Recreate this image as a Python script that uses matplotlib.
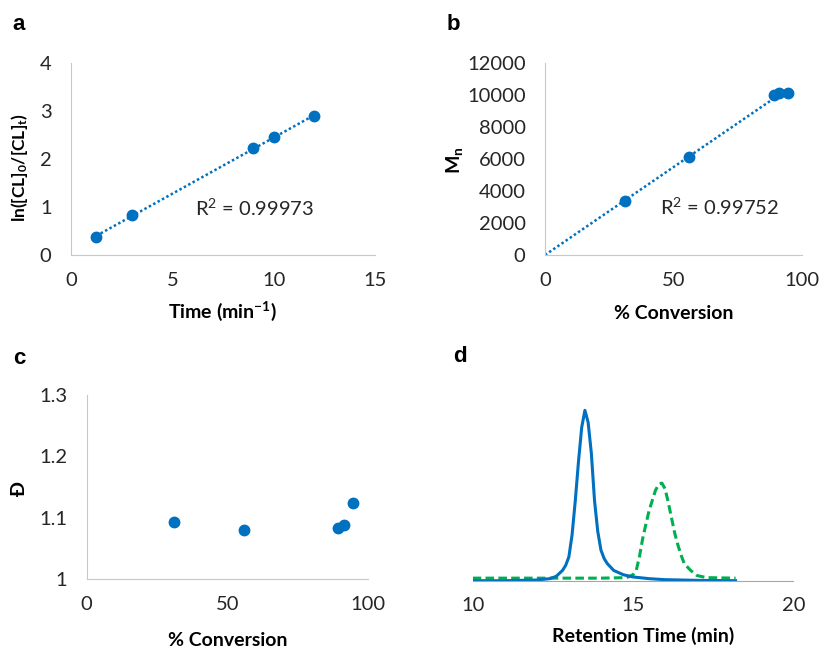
import numpy as np
import matplotlib
matplotlib.use('Agg')
import matplotlib.pyplot as plt

plt.rcParams['font.family'] = ['Lato', 'DejaVu Sans']
plt.rcParams['mathtext.fontset'] = 'custom'
plt.rcParams['mathtext.rm'] = 'Lato'
plt.rcParams['mathtext.bf'] = 'Lato:bold'
plt.rcParams['mathtext.it'] = 'Lato:italic'

BLUE = '#0070C0'
GREEN = '#00B050'
SPINE = '#C8C8C8'
TICKC = '#262626'
W, H = 819, 650

# panel a: kinetics
time_min = [1.25, 3.0, 9.0, 10.0, 12.0]
ln_ratio = [0.38, 0.83, 2.22, 2.45, 2.90]

# panel b/c: conversion vs Mn and dispersity
conversion = [31.0, 56.0, 89.3, 91.3, 94.6]
mn_values = [3350, 6150, 9980, 10100, 10150]
dispersity = [1.094, 1.081, 1.084, 1.088, 1.124]

# panel d: GPC traces (normalised)
rt_blue = [10.0, 11.0, 12.0, 12.4, 12.6, 12.8, 12.9, 13.0, 13.1, 13.2, 13.3, 13.4,
           13.5, 13.6, 13.7, 13.8, 13.9, 14.0, 14.1, 14.2, 14.4, 14.7, 15.0, 15.5,
           16.0, 17.0, 18.2]
sig_blue = [0.0, 0.0, 0.004, 0.012, 0.025, 0.06, 0.09, 0.14, 0.27, 0.47, 0.70, 0.90,
            1.0, 0.93, 0.75, 0.47, 0.29, 0.18, 0.13, 0.10, 0.06, 0.035, 0.022, 0.012,
            0.006, 0.002, 0.0]
rt_green = [10.0, 14.0, 14.8, 15.0, 15.1, 15.2, 15.3, 15.4, 15.5, 15.6, 15.7, 15.8,
            15.9, 16.0, 16.1, 16.2, 16.3, 16.4, 16.5, 16.6, 16.8, 17.0, 17.3, 18.2]
sig_green = [0.015, 0.015, 0.018, 0.035, 0.06, 0.14, 0.245, 0.33, 0.41, 0.47, 0.53, 0.565,
             0.573, 0.54, 0.46, 0.37, 0.28, 0.21, 0.15, 0.10, 0.06, 0.03, 0.018, 0.015]

TICK_FS = 14.5
LAB_FS = 14


def style_axes(ax, show_left=True):
    for s in ['top', 'right']:
        ax.spines[s].set_visible(False)
    ax.spines['bottom'].set_color(SPINE)
    ax.spines['left'].set_color(SPINE)
    ax.spines['left'].set_visible(show_left)
    ax.tick_params(length=0, labelsize=TICK_FS, colors=TICKC, pad=12)
    ax.tick_params(axis='y', pad=14)


def px_axes(left, right, top, bottom):
    return fig.add_axes([left / W, 1 - bottom / H, (right - left) / W, (bottom - top) / H])


fig = plt.figure(figsize=(8.19, 6.5), dpi=100)

# ---- a ----
ax_a = px_axes(71, 375, 63, 255)
style_axes(ax_a)
k, b0 = np.polyfit(time_min, ln_ratio, 1)
xs = np.array([time_min[0], time_min[-1]])
ax_a.plot(xs, k * xs + b0, color=BLUE, lw=1.8, linestyle=(0, (1, 1)))
ax_a.plot(time_min, ln_ratio, 'o', color=BLUE, ms=7.5, zorder=3)
ax_a.set_xlim(0, 15)
ax_a.set_ylim(0, 4)
ax_a.set_xticks([0, 5, 10, 15])
ax_a.set_yticks([0, 1, 2, 3, 4])
fig.text(195 / W, 1 - 208 / H, r'R$^2$ = 0.99973', fontsize=TICK_FS, color=TICKC, va='center')
ax_a.set_xlabel(r'Time (min$^{\mathbf{-1}}$)', fontsize=LAB_FS, fontweight='bold')
ax_a.set_ylabel(r'ln([CL]$_\mathbf{0}$/[CL]$_\mathbf{t}$)', fontsize=12.5, fontweight='bold')
ax_a.xaxis.set_label_coords(0.498, -0.234)
ax_a.yaxis.set_label_coords(-0.135, 0.453)

# ---- b ----
ax_b = px_axes(545, 801.7, 63, 255)
style_axes(ax_b)
cv = np.array(conversion)
mv = np.array(mn_values)
slope = np.sum(cv * mv) / np.sum(cv * cv)
xs = np.array([0, cv.max()])
ax_b.plot(xs, slope * xs, color=BLUE, lw=1.8, linestyle=(0, (1, 1)))
ax_b.plot(conversion, mn_values, 'o', color=BLUE, ms=7.5, zorder=3)
ax_b.set_xlim(0, 100)
ax_b.set_ylim(0, 12000)
ax_b.set_xticks([0, 50, 100])
ax_b.set_yticks(range(0, 12001, 2000))
fig.text(660 / W, 1 - 207 / H, r'R$^2$ = 0.99752', fontsize=TICK_FS, color=TICKC, va='center')
ax_b.set_xlabel('% Conversion', fontsize=LAB_FS, fontweight='bold')
ax_b.set_ylabel(r'M$_\mathbf{n}$', fontsize=LAB_FS, fontweight='bold')
ax_b.xaxis.set_label_coords(0.5, -0.26)
ax_b.yaxis.set_label_coords(-0.312, 0.495)

# ---- c ----
ax_c = px_axes(86.7, 368.3, 395, 579.3)
style_axes(ax_c)
ax_c.plot(conversion, dispersity, 'o', color=BLUE, ms=7.5, zorder=3)
ax_c.set_xlim(0, 100)
ax_c.set_ylim(1, 1.3)
ax_c.set_xticks([0, 50, 100])
ax_c.set_yticks([1, 1.1, 1.2, 1.3])
ax_c.set_yticklabels(['1', '1.1', '1.2', '1.3'])
ax_c.set_xlabel('% Conversion', fontsize=LAB_FS, fontweight='bold')
ax_c.set_ylabel('Đ', fontsize=LAB_FS, fontweight='bold')
ax_c.xaxis.set_label_coords(0.5, -0.284)
ax_c.yaxis.set_label_coords(-0.208, 0.494)

# ---- d ----
ax_d = px_axes(472.7, 793.3, 395, 580.7)
style_axes(ax_d, show_left=False)
ax_d.spines['bottom'].set_color('#A6A6A6')
ax_d.plot(rt_green, sig_green, color=GREEN, lw=2.2, linestyle=(0, (2.8, 1.4)))
ax_d.plot(rt_blue, sig_blue, color=BLUE, lw=2.2)
ax_d.set_xlim(10, 20)
ax_d.set_ylim(0, 1.09)
ax_d.set_xticks([10, 15, 20])
ax_d.set_yticks([])
ax_d.set_xlabel('Retention Time (min)', fontsize=LAB_FS, fontweight='bold')
ax_d.xaxis.set_label_coords(0.532, -0.248)

# panel letters
for lab, x, y in [('a', 19, 25), ('b', 453, 25), ('c', 19, 358), ('d', 460, 357)]:
    fig.text(x / W, 1 - y / H, lab, fontsize=16, fontweight='bold',
             family='Liberation Sans', ha='center', va='center')

fig.savefig('out.png', dpi=100)
